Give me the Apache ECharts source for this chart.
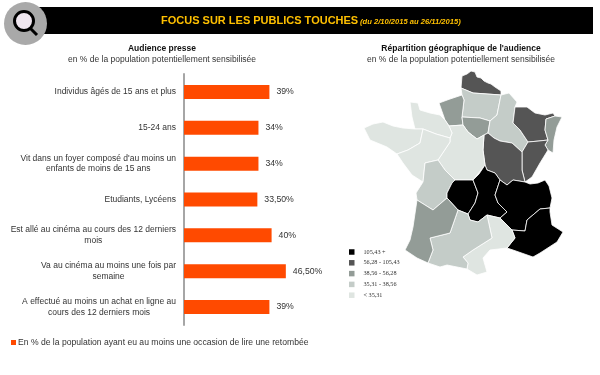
<!DOCTYPE html>
<html>
<head>
<meta charset="utf-8">
<style>html,body{margin:0;padding:0;background:#fff}#chart{width:600px;height:375px}</style>
<script src="https://cdn.jsdelivr.net/npm/echarts@6/dist/echarts.min.js"></script>
</head>
<body>
<div id="chart"></div>
<script>
const categories = [
  "Individus âgés de 15 ans et plus",
  "15-24 ans",
  "Vit dans un foyer composé d'au moins un\nenfants de moins de 15 ans",
  "Etudiants, Lycéens",
  "Est allé au cinéma au cours des 12 derniers\nmois",
  "Va au cinéma au moins une fois par\nsemaine",
  "A effectué au moins un achat en ligne au\ncours des 12 derniers mois"
];
const audience = [39, 34, 34, 33.5, 40, 46.5, 39];
const audienceLabels = ["39%", "34%", "34%", "33,50%", "40%", "46,50%", "39%"];
const seriesName = "En % de la population ayant eu au moins une occasion de lire une retombée";

const regionNames = ["Nord", "Picardie", "Haute-Normandie", "Ile-de-France", "Champagne", "Lorraine", "Alsace",
  "Franche-Comte", "Bourgogne", "Centre", "Basse-Normandie", "Bretagne", "Pays de la Loire", "Poitou-Charentes",
  "Limousin", "Auvergne", "Rhone-Alpes", "PACA", "Languedoc", "Midi-Pyrenees", "Aquitaine"];
// only the class of each region can be read, so values are picked inside the class
const regionValues = [80, 37, 45, 45, 37, 80, 45, 80, 80, 30, 30, 30, 30, 37, 120, 120, 120, 120, 30, 37, 45];
const legendLabels = ["105,43 +", "56,28 - 105,43", "38,56 - 56,28", "35,31 - 38,56", "< 35,31"];
const classBreaks = [105.43, 56.28, 38.56, 35.31];
const classColors = ["#000000", "#555555", "#939c97", "#c4ccc8", "#dfe5e1"];

// region outlines, neighbours share their border points
const outlines = {
  "Nord": [[461,88],[462,76],[467,74],[471,71],[475,72],[477,77],[481,78],[484,81],[488,83],[491,84],[495,87],[501,91],[501,95],[487,94],[473,93]],
  "Picardie": [[461,88],[473,93],[487,94],[501,95],[499,105],[497,115],[490,121],[480,118],[462,117],[464,100],[462,95]],
  "Haute-Normandie": [[439,103],[450,99],[462,95],[464,100],[462,117],[463,125],[449,126],[445,120]],
  "Ile-de-France": [[462,117],[480,118],[490,121],[488,133],[484,135],[477,139],[468,132],[463,125]],
  "Champagne": [[501,95],[509,93],[517,102],[515,107],[513,123],[520,130],[528,142],[522,152],[512,143],[500,141],[494,138],[488,133],[490,121],[497,115],[499,105]],
  "Lorraine": [[515,107],[527,107],[535,113],[545,115],[553,113],[555,116],[546,119],[545,130],[548,140],[539,141],[528,142],[520,130],[513,123]],
  "Alsace": [[546,119],[555,116],[562,117],[557,127],[554,140],[553,153],[548,150],[545,145],[548,140],[545,130]],
  "Franche-Comte": [[528,142],[539,141],[548,140],[545,145],[548,150],[540,163],[532,177],[525,182],[522,170],[522,163],[522,152]],
  "Bourgogne": [[484,135],[488,133],[494,138],[500,141],[512,143],[522,152],[522,163],[522,170],[525,182],[513,180],[507,185],[500,180],[495,173],[487,170],[485,165],[483,150]],
  "Centre": [[449,126],[463,125],[468,132],[477,139],[484,135],[483,150],[485,165],[473,180],[463,180],[455,180],[445,170],[438,160],[450,142],[450,138],[452,133]],
  "Basse-Normandie": [[410,102],[418,103],[420,110],[430,113],[440,115],[445,120],[449,126],[452,133],[450,138],[436,134],[423,129],[415,129],[412,117]],
  "Bretagne": [[364,128],[373,124],[383,122],[393,126],[403,128],[415,129],[423,129],[420,143],[408,150],[397,154],[387,147],[370,140]],
  "Pays de la Loire": [[423,129],[436,134],[450,138],[450,142],[438,160],[425,163],[423,182],[412,175],[403,163],[397,154],[408,150],[420,143]],
  "Poitou-Charentes": [[425,163],[438,160],[445,170],[455,180],[452,183],[447,193],[447,198],[433,210],[417,200],[416,193],[423,182]],
  "Limousin": [[455,180],[463,180],[473,180],[478,193],[475,203],[468,214],[458,210],[447,198],[447,193],[452,183]],
  "Auvergne": [[473,180],[479,174],[485,165],[487,170],[495,173],[500,180],[495,195],[498,203],[507,212],[500,218],[487,215],[478,222],[470,220],[468,214],[475,203],[478,193]],
  "Rhone-Alpes": [[500,180],[507,185],[513,180],[525,182],[530,184],[538,183],[545,180],[549,186],[552,198],[550,208],[540,209],[527,220],[525,231],[512,230],[500,218],[507,212],[498,203],[495,195]],
  "PACA": [[540,209],[550,208],[550,212],[552,225],[563,232],[557,242],[540,253],[533,257],[513,250],[507,248],[515,238],[512,230],[525,231],[527,220]],
  "Languedoc": [[487,215],[500,218],[512,230],[515,238],[507,248],[490,250],[483,258],[487,272],[477,275],[467,269],[468,263],[463,257],[473,250],[492,238]],
  "Midi-Pyrenees": [[468,214],[470,220],[478,222],[487,215],[492,238],[473,250],[463,257],[468,263],[467,269],[447,265],[440,267],[428,263],[433,250],[430,238],[450,233],[458,210]],
  "Aquitaine": [[417,200],[433,210],[447,198],[458,210],[450,233],[430,238],[433,250],[428,263],[417,258],[405,250],[410,240],[413,227]]
};

const features = regionNames.map((name) => {
  const ring = outlines[name].map((p) => [p[0], -p[1]]);
  ring.push(ring[0]);
  return {
    type: "Feature",
    properties: { name: name },
    geometry: { type: "Polygon", coordinates: [ring] }
  };
});
echarts.registerMap("regions", { type: "FeatureCollection", features: features });

const allPoints = Object.values(outlines).flat();
const mapLeft = Math.min(...allPoints.map((p) => p[0]));
const mapRight = Math.max(...allPoints.map((p) => p[0]));
const mapTop = Math.min(...allPoints.map((p) => p[1]));
const mapBottom = Math.max(...allPoints.map((p) => p[1]));

const font = "'Liberation Sans', Arial, sans-serif";
const chart = echarts.init(document.getElementById("chart"), null, { renderer: "canvas" });

chart.setOption({
  animation: false,
  textStyle: { fontFamily: font },
  title: [
    { text: "Audience presse", left: 162, top: 44, padding: 0, textAlign: "center",
      textStyle: { fontSize: 8.5, fontWeight: "bold", color: "#111", fontFamily: font } },
    { text: "en % de la population potentiellement sensibilisée", left: 162, top: 55, padding: 0, textAlign: "center",
      textStyle: { fontSize: 8.5, fontWeight: "normal", color: "#333", fontFamily: font } },
    { text: "Répartition géographique de l'audience", left: 461, top: 44, padding: 0, textAlign: "center",
      textStyle: { fontSize: 8.5, fontWeight: "bold", color: "#111", fontFamily: font } },
    { text: "en % de la population potentiellement sensibilisée", left: 461, top: 55, padding: 0, textAlign: "center",
      textStyle: { fontSize: 8.5, fontWeight: "normal", color: "#333", fontFamily: font } }
  ],
  graphic: [
    { type: "rect", shape: { x: 35, y: 7, width: 558, height: 27 }, style: { fill: "#000" } },
    { type: "circle", shape: { cx: 25.5, cy: 23.5, r: 21.5 }, style: { fill: "#a9a9a9" } },
    { type: "line", shape: { x1: 30, y1: 28, x2: 37, y2: 35 }, style: { stroke: "#000", lineWidth: 3 } },
    { type: "circle", shape: { cx: 24, cy: 21, r: 9.5 }, style: { fill: "#efe6ef", stroke: "#000", lineWidth: 3 } },
    { type: "text", x: 161, y: 15, style: { text: "FOCUS SUR LES PUBLICS TOUCHES", fill: "#ffc000",
      font: "bold 11px " + font } },
    { type: "text", x: 360, y: 17.5, style: { text: "(du 2/10/2015 au 26/11/2015)", fill: "#ffc000",
      font: "italic bold 7.6px " + font } }
  ],
  legend: {
    left: 11, top: 338, padding: 0, icon: "rect", itemWidth: 5, itemHeight: 5, selectedMode: false,
    data: [seriesName],
    textStyle: { fontSize: 8.6, color: "#333", padding: [0, 0, 0, -3], fontFamily: font }
  },
  grid: { left: 184, top: 74, width: 109.5, height: 251 },
  xAxis: { type: "value", min: 0, max: 50, show: false },
  yAxis: {
    type: "category", inverse: true, data: categories,
    axisLine: { lineStyle: { color: "#a6a6a6", width: 2 } },
    axisTick: { length: 2, lineStyle: { color: "#a6a6a6" } },
    axisLabel: {
      margin: 8, interval: 0, align: "right", fontSize: 8.5, color: "#333",
      formatter: (v) => v.split("\n").map((l) => "{c|" + l + "}").join("\n"),
      rich: { c: { align: "center", fontSize: 8.5, lineHeight: 10.5, color: "#333", fontFamily: font } }
    }
  },
  visualMap: {
    type: "piecewise", seriesIndex: 1, left: 349, top: 249, padding: 0, align: "left",
    itemWidth: 5.5, itemHeight: 5.5, itemGap: 4.8,
    itemSymbol: "rect", textGap: 9, orient: "vertical", selectedMode: false,
    textStyle: { fontSize: 6.2, color: "#333", fontFamily: "'Liberation Serif', serif" },
    pieces: [
      { min: classBreaks[0], label: legendLabels[0], color: classColors[0] },
      { min: classBreaks[1], max: classBreaks[0], label: legendLabels[1], color: classColors[1] },
      { min: classBreaks[2], max: classBreaks[1], label: legendLabels[2], color: classColors[2] },
      { min: classBreaks[3], max: classBreaks[2], label: legendLabels[3], color: classColors[3] },
      { max: classBreaks[3], label: legendLabels[4], color: classColors[4] }
    ]
  },
  series: [
    {
      name: seriesName, type: "bar", data: audience, barWidth: 14, silent: true,
      itemStyle: { color: "#ff4a00" },
      label: {
        show: true, position: "right", distance: 7, fontSize: 8.7, color: "#333",
        formatter: (p) => audienceLabels[p.dataIndex]
      }
    },
    {
      type: "map", map: "regions", aspectScale: 1, silent: true, roam: false, showLegendSymbol: false,
      left: mapLeft, top: mapTop, width: mapRight - mapLeft, height: mapBottom - mapTop,
      itemStyle: { borderColor: "#fff", borderWidth: 0.8 },
      label: { show: false },
      data: regionNames.map((name, i) => ({ name: name, value: regionValues[i] }))
    }
  ]
});
</script>
</body>
</html>
